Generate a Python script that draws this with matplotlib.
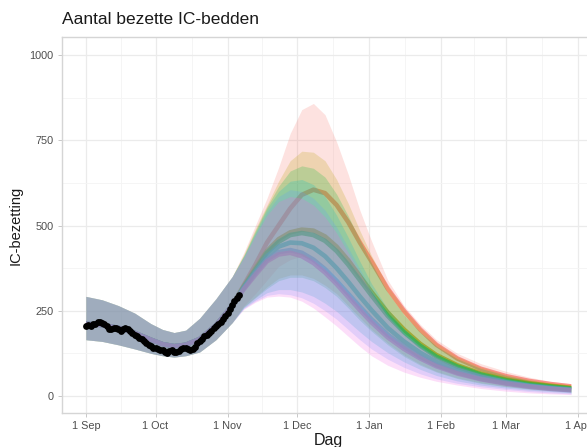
import matplotlib
matplotlib.use("Agg")
import matplotlib.pyplot as plt
import numpy as np
import pandas as pd

plt.rcParams['font.family'] = ['Liberation Sans', 'DejaVu Sans']

# ---------------- data ----------------
obs_start = "2020-09-01"
obs_values = [205, 207, 204, 210, 212, 216, 218, 215, 212, 205,
              195, 197, 200, 199, 195, 192, 197, 200, 196, 190,
              186, 180, 175, 170, 166, 160, 155, 150, 146, 142,
              140, 138, 135, 136, 130, 127, 132, 136, 130, 128,
              132, 137, 140, 142, 138, 134, 137, 145, 155, 162,
              168, 175, 180, 185, 190, 198, 205, 212, 218, 225,
              235, 243, 255, 268, 278, 287, 295]

hist_dates = ["2020-09-01", "2020-09-08", "2020-09-15", "2020-09-22", "2020-09-29",
              "2020-10-04", "2020-10-09", "2020-10-14", "2020-10-20", "2020-10-27",
              "2020-11-03"]
hist_med = [212, 208, 200, 185, 165, 152, 146, 150, 167, 207, 265]
hist_lo = [165, 160, 150, 138, 125, 118, 114, 118, 129, 165, 215]
hist_hi = [292, 282, 265, 243, 212, 195, 186, 193, 228, 285, 350]

fc_dates = ["2020-11-08", "2020-11-13", "2020-11-18", "2020-11-23", "2020-11-28",
            "2020-12-03", "2020-12-08", "2020-12-13", "2020-12-18", "2020-12-23",
            "2020-12-28", "2021-01-02", "2021-01-09", "2021-01-16", "2021-01-23",
            "2021-01-30", "2021-02-08", "2021-02-18", "2021-03-01", "2021-03-11",
            "2021-03-20", "2021-03-29"]

red_med = [325, 385, 450, 500, 550, 590, 605, 595, 560, 510, 450, 395, 315, 250, 195, 150, 110, 80, 58, 44, 35, 28]
red_hi = [420, 500, 580, 670, 770, 840, 858, 825, 745, 650, 545, 455, 340, 265, 210, 165, 125, 95, 72, 55, 43, 36]
red_lo = [265, 300, 340, 380, 400, 410, 400, 380, 350, 310, 270, 230, 185, 145, 110, 85, 62, 45, 32, 24, 18, 14]

olive_med = [322, 375, 425, 460, 480, 488, 485, 468, 438, 398, 352, 305, 245, 195, 153, 120, 90, 66, 48, 37, 30, 24]
olive_hi = [415, 490, 560, 630, 690, 718, 715, 690, 635, 565, 485, 412, 322, 255, 200, 155, 115, 85, 62, 48, 39, 32]
olive_lo = [262, 290, 320, 345, 355, 355, 345, 325, 300, 265, 230, 195, 155, 120, 93, 72, 53, 39, 28, 21, 16, 12]

green_med = [320, 370, 420, 452, 472, 478, 472, 455, 425, 385, 340, 295, 235, 187, 147, 115, 86, 63, 46, 35, 28, 22]
green_hi = [412, 485, 555, 615, 660, 675, 668, 642, 592, 528, 458, 390, 303, 238, 187, 146, 109, 81, 60, 46, 37, 30]
green_lo = [260, 288, 315, 338, 348, 348, 338, 318, 292, 258, 222, 190, 150, 116, 90, 70, 51, 37, 27, 20, 15, 11]

cyan_med = [318, 365, 410, 438, 450, 448, 435, 410, 375, 335, 292, 252, 200, 160, 127, 100, 76, 56, 41, 31, 25, 20]
cyan_hi = [410, 480, 550, 600, 630, 635, 620, 585, 530, 465, 395, 330, 255, 197, 155, 122, 93, 70, 52, 40, 33, 27]
cyan_lo = [258, 282, 303, 312, 312, 305, 292, 272, 248, 218, 188, 160, 127, 100, 78, 60, 44, 32, 23, 17, 13, 9]

blue_med = [315, 360, 400, 422, 428, 420, 400, 372, 338, 300, 262, 225, 180, 145, 115, 91, 69, 51, 38, 29, 23, 18]
blue_hi = [408, 475, 540, 585, 605, 600, 580, 545, 495, 435, 372, 312, 240, 186, 147, 116, 88, 66, 49, 38, 31, 26]
blue_lo = [256, 278, 295, 300, 297, 288, 272, 250, 225, 195, 165, 138, 108, 84, 65, 50, 37, 27, 19, 13, 9, 6]

mag_med = [313, 355, 395, 415, 420, 410, 390, 362, 328, 290, 252, 216, 172, 138, 110, 87, 66, 49, 36, 27, 21, 17]
mag_hi = [405, 470, 530, 570, 585, 580, 560, 525, 478, 420, 360, 302, 232, 180, 142, 112, 85, 64, 48, 37, 30, 25]
mag_lo = [254, 275, 290, 293, 290, 278, 258, 232, 205, 175, 145, 118, 90, 70, 55, 43, 32, 22, 14, 9, 6, 4]

scenario_colors = ["#F8766D", "#B79F00", "#00BA38", "#00BFC4", "#619CFF", "#F564E3"]
scenarios = [
    (red_med, red_lo, red_hi),
    (olive_med, olive_lo, olive_hi),
    (green_med, green_lo, green_hi),
    (cyan_med, cyan_lo, cyan_hi),
    (blue_med, blue_lo, blue_hi),
    (mag_med, mag_lo, mag_hi),
]

x_ticks = ["2020-09-01", "2020-10-01", "2020-11-01", "2020-12-01", "2021-01-01",
           "2021-02-01", "2021-03-01", "2021-04-01"]
x_ticklabels = ["1 Sep", "1 Oct", "1 Nov", "1 Dec", "1 Jan", "1 Feb", "1 Mar", "1 Apr"]
y_ticks = [0, 250, 500, 750, 1000]

# ---------------- figure ----------------
W, H = 587, 447
fig = plt.figure(figsize=(W / 100, H / 100), dpi=100)
left_px, right_px, top_px, bottom_px = 62, 595, 37, 413
ax = fig.add_axes([left_px / W, 1 - bottom_px / H, (right_px - left_px) / W, (bottom_px - top_px) / H])

dates_all = pd.to_datetime(hist_dates + fc_dates)
for (med, lo, hi), col in zip(scenarios, scenario_colors):
    ax.plot(dates_all, hist_med + med, color=col, lw=3.3, alpha=0.75, zorder=2,
            solid_capstyle='butt', solid_joinstyle='round')
for (med, lo, hi), col in zip(scenarios, scenario_colors):
    ax.fill_between(dates_all, hist_lo + lo, hist_hi + hi, color=col, alpha=0.21,
                    lw=0, zorder=3)

obs_dates = pd.date_range(obs_start, periods=len(obs_values), freq="D")
ax.scatter(obs_dates, obs_values, s=24, color="black", zorder=5, linewidths=0)

x0 = pd.Timestamp("2020-09-01") - pd.Timedelta(days=10.3)
x1 = pd.Timestamp("2021-03-29") + pd.Timedelta(days=10.3)
ax.set_xlim(x0, x1)
ax.set_ylim(-50, 1053)

xt = pd.to_datetime(x_ticks)
ax.set_xticks(xt)
ax.set_xticklabels(x_ticklabels)
minor_x = [xt[i] + (xt[i + 1] - xt[i]) / 2 for i in range(len(xt) - 1)]
ax.set_xticks(minor_x, minor=True)
ax.set_yticks(y_ticks)
ax.set_yticks([125, 375, 625, 875], minor=True)

ax.grid(True, which='major', color='#EBEBEB', lw=0.9, zorder=0)
ax.grid(True, which='minor', color='#F4F4F4', lw=0.6, zorder=0)
ax.set_axisbelow(True)
for s in ax.spines.values():
    s.set_color('#D5D5D5')
    s.set_linewidth(1.0)

ax.tick_params(axis='both', which='major', length=3, width=0.7, color='#C8C8C8',
               labelsize=7.8, labelcolor='#4D4D4D', pad=3)
ax.tick_params(axis='both', which='minor', length=0)

ax.set_xlabel("Dag", fontsize=11.5, color='#1A1A1A', labelpad=1)
ax.set_ylabel("IC-bezetting", fontsize=10.5, color='#1A1A1A', labelpad=5)
fig.text(left_px / W, 1 - 20 / H, "Aantal bezette IC-bedden", fontsize=12.5,
         color='#1A1A1A', ha='left', va='center')

fig.savefig("out.png", dpi=100)
